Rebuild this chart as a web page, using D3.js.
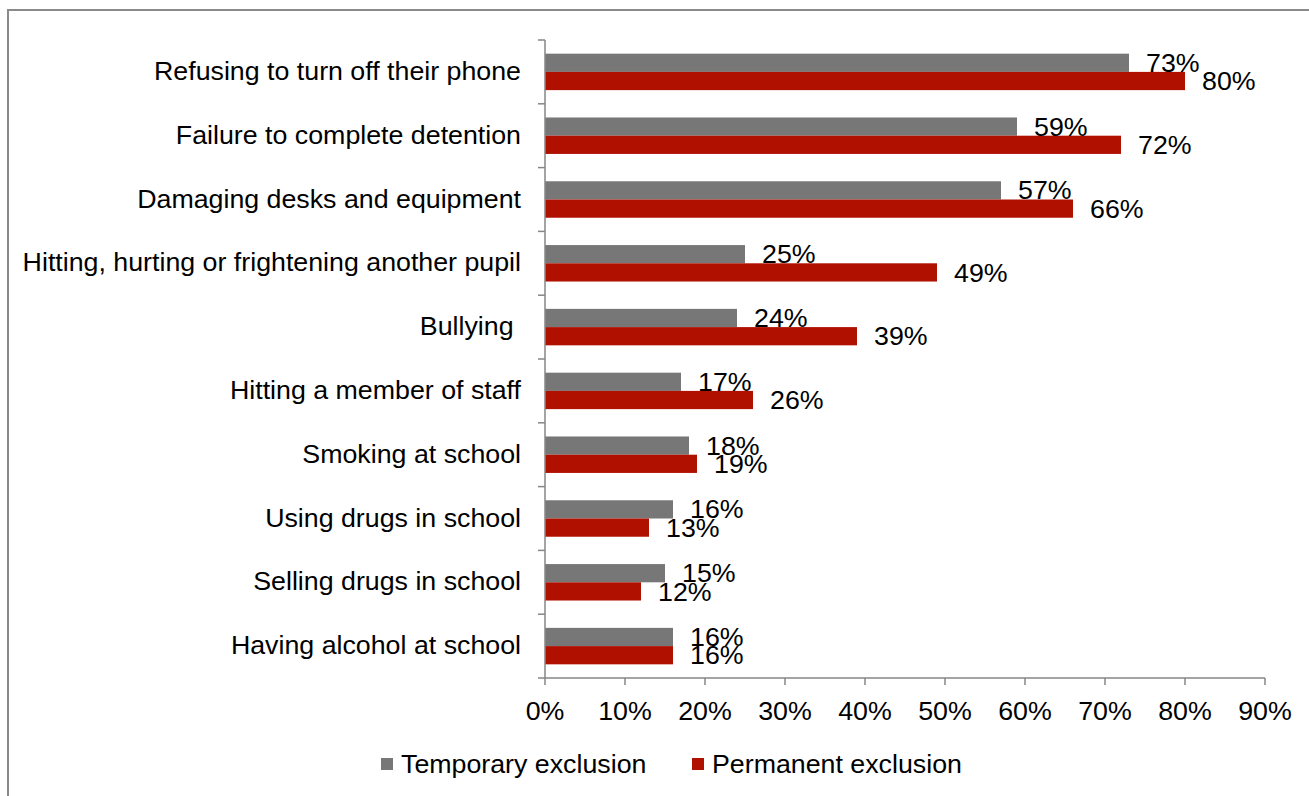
<!DOCTYPE html>
<html><head><meta charset="utf-8">
<script src="https://cdn.jsdelivr.net/npm/d3@7"></script>
<style>
html,body{margin:0;padding:0;background:#fff;}
svg{display:block;font-family:"Liberation Sans",Arial,sans-serif;}
</style></head>
<body>
<svg id="chart" width="1309" height="796"></svg>
<script>
const categories = ["Refusing to turn off their phone","Failure to complete detention","Damaging desks and equipment","Hitting, hurting or frightening another pupil","Bullying ","Hitting a member of staff","Smoking at school","Using drugs in school","Selling drugs in school","Having alcohol at school"];
const temporary = [73,59,57,25,24,17,18,16,15,16];
const permanent = [80,72,66,49,39,26,19,13,12,16];
const xTicks = [0,10,20,30,40,50,60,70,80,90];
const seriesNames = ["Temporary exclusion","Permanent exclusion"];
const colors = ["#777777","#B01000"];

const svg = d3.select("#chart");
const fs = 26;
const sx = 1.03;
const axisColor = "#868686";

function txt(parent, x, y, s, anchor){
  return parent.append("text")
    .attr("transform", `translate(${x},${y}) scale(${sx},1)`)
    .attr("dy","0.35em").attr("font-size",fs).attr("fill","#000")
    .attr("text-anchor", anchor||"start")
    .attr("xml:space","preserve").style("white-space","pre")
    .text(s);
}

// outer border
svg.append("rect").attr("x",8).attr("y",10).attr("width",1320).attr("height",820)
  .attr("fill","none").attr("stroke","#8a8a8a").attr("stroke-width",2);

const x = d3.scaleLinear().domain([0,90]).range([545,1265]);
const y = d3.scaleBand().domain(categories).range([40,678]).padding(0);
const sub = d3.scaleBand().domain([0,1]).range([0,y.bandwidth()]).paddingInner(0).paddingOuter(0.75);

const data = categories.map((c,i)=>({c, vals:[temporary[i],permanent[i]]}));

const g = svg.append("g");
data.forEach(d=>{
  d.vals.forEach((v,s)=>{
    g.append("rect")
      .attr("x",x(0)).attr("y",y(d.c)+sub(s))
      .attr("width",x(v)-x(0)).attr("height",sub.bandwidth())
      .attr("fill",colors[s]);
  });
});
data.forEach(d=>{
  d.vals.forEach((v,s)=>{
    txt(g, x(v)+17, y(d.c)+sub(s)+sub.bandwidth()/2, v+"%");
  });
});

// y axis
const yAxis = svg.append("g");
yAxis.append("line").attr("x1",545).attr("x2",545).attr("y1",40).attr("y2",678)
  .attr("stroke",axisColor).attr("stroke-width",1.5);
const bounds = categories.map(c=>y(c)).concat([y.range()[1]]);
bounds.forEach(b=>{
  yAxis.append("line").attr("x1",538).attr("x2",545).attr("y1",b).attr("y2",b)
    .attr("stroke",axisColor).attr("stroke-width",1.5);
});
categories.forEach(c=>{
  txt(yAxis, 521, y(c)+y.bandwidth()/2 - 1, c, "end");
});

// x axis
const xAxis = svg.append("g");
xAxis.append("line").attr("x1",545).attr("x2",1265).attr("y1",678).attr("y2",678)
  .attr("stroke",axisColor).attr("stroke-width",1.5);
xTicks.forEach(t=>{
  xAxis.append("line").attr("x1",x(t)).attr("x2",x(t)).attr("y1",678).attr("y2",685)
    .attr("stroke",axisColor).attr("stroke-width",1.5);
  txt(xAxis, x(t), 711, t+"%", "middle");
});

// legend
const legX = [381,692];
seriesNames.forEach((n,i)=>{
  svg.append("rect").attr("x",legX[i]).attr("y",758).attr("width",12).attr("height",12).attr("fill",colors[i]);
  txt(svg, legX[i]+20, 764, n);
});
</script>
</body></html>
